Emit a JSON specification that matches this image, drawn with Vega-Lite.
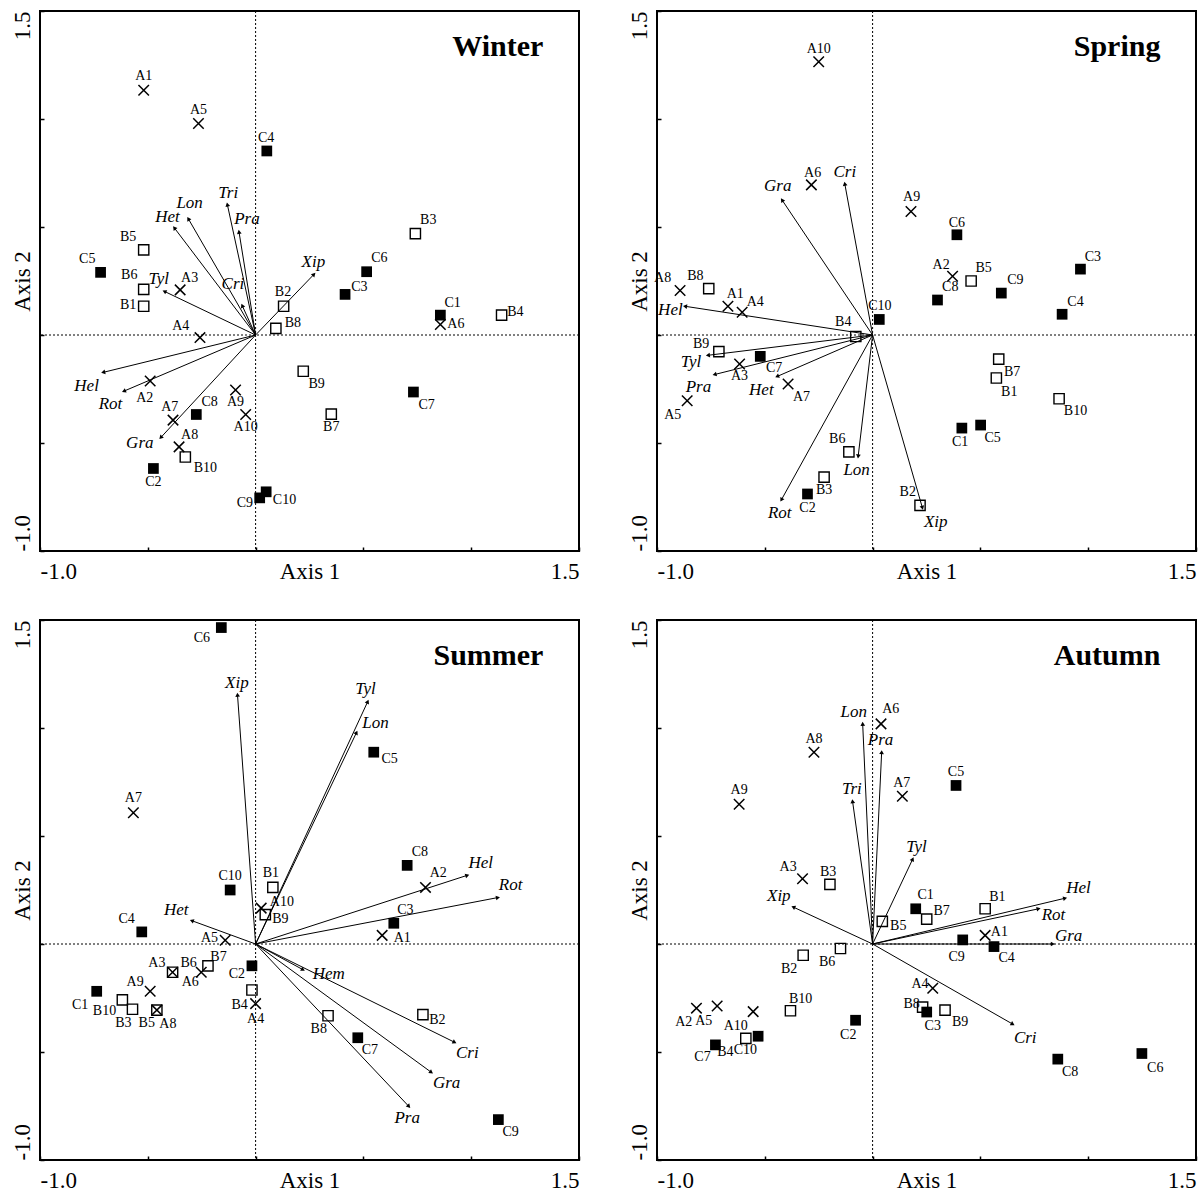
{
  "$schema": "https://vega.github.io/schema/vega-lite/v6.json",
  "background": "white",
  "padding": {"left": 10, "top": 9, "right": 2, "bottom": 2},
  "data": {"values": [
    {"s":"Winter","k":"T","t":"Winter"},
    {"s":"Spring","k":"T","t":"Spring"},
    {"s":"Summer","k":"T","t":"Summer"},
    {"s":"Autumn","k":"T","t":"Autumn"},

    {"s":"Winter","k":"A","t":"A1","x":-0.519,"y":1.133,"lx":-0.519,"ly":1.197},
    {"s":"Winter","k":"A","t":"A2","x":-0.489,"y":-0.213,"lx":-0.514,"ly":-0.290},
    {"s":"Winter","k":"A","t":"A3","x":-0.350,"y":0.209,"lx":-0.306,"ly":0.264},
    {"s":"Winter","k":"A","t":"A4","x":-0.258,"y":-0.012,"lx":-0.347,"ly":0.042},
    {"s":"Winter","k":"A","t":"A5","x":-0.265,"y":0.979,"lx":-0.265,"ly":1.040},
    {"s":"Winter","k":"A","t":"A6","x":0.857,"y":0.049,"lx":0.929,"ly":0.052},
    {"s":"Winter","k":"A","t":"A7","x":-0.383,"y":-0.394,"lx":-0.398,"ly":-0.335},
    {"s":"Winter","k":"A","t":"A8","x":-0.355,"y":-0.518,"lx":-0.306,"ly":-0.461},
    {"s":"Winter","k":"A","t":"A9","x":-0.093,"y":-0.255,"lx":-0.093,"ly":-0.312},
    {"s":"Winter","k":"A","t":"A10","x":-0.046,"y":-0.368,"lx":-0.046,"ly":-0.426},
    {"s":"Winter","k":"B","t":"B1","x":-0.519,"y":0.133,"lx":-0.591,"ly":0.141},
    {"s":"Winter","k":"B","t":"B2","x":0.130,"y":0.133,"lx":0.127,"ly":0.199},
    {"s":"Winter","k":"B","t":"B3","x":0.741,"y":0.469,"lx":0.801,"ly":0.534},
    {"s":"Winter","k":"B","t":"B4","x":1.141,"y":0.092,"lx":1.205,"ly":0.106},
    {"s":"Winter","k":"B","t":"B5","x":-0.519,"y":0.394,"lx":-0.591,"ly":0.452},
    {"s":"Winter","k":"B","t":"B6","x":-0.519,"y":0.211,"lx":-0.586,"ly":0.276},
    {"s":"Winter","k":"B","t":"B7","x":0.351,"y":-0.366,"lx":0.351,"ly":-0.426},
    {"s":"Winter","k":"B","t":"B8","x":0.094,"y":0.031,"lx":0.173,"ly":0.054},
    {"s":"Winter","k":"B","t":"B9","x":0.221,"y":-0.168,"lx":0.283,"ly":-0.229},
    {"s":"Winter","k":"B","t":"B10","x":-0.326,"y":-0.565,"lx":-0.233,"ly":-0.614},
    {"s":"Winter","k":"C","t":"C1","x":0.857,"y":0.092,"lx":0.914,"ly":0.150},
    {"s":"Winter","k":"C","t":"C2","x":-0.474,"y":-0.618,"lx":-0.474,"ly":-0.679},
    {"s":"Winter","k":"C","t":"C3","x":0.415,"y":0.188,"lx":0.481,"ly":0.220},
    {"s":"Winter","k":"C","t":"C4","x":0.052,"y":0.852,"lx":0.049,"ly":0.914},
    {"s":"Winter","k":"C","t":"C5","x":-0.719,"y":0.290,"lx":-0.781,"ly":0.351},
    {"s":"Winter","k":"C","t":"C6","x":0.515,"y":0.293,"lx":0.574,"ly":0.356},
    {"s":"Winter","k":"C","t":"C7","x":0.732,"y":-0.264,"lx":0.793,"ly":-0.325},
    {"s":"Winter","k":"C","t":"C8","x":-0.275,"y":-0.368,"lx":-0.213,"ly":-0.312},
    {"s":"Winter","k":"C","t":"C9","x":0.019,"y":-0.754,"lx":-0.050,"ly":-0.780},
    {"s":"Winter","k":"C","t":"C10","x":0.049,"y":-0.726,"lx":0.134,"ly":-0.766},
    {"s":"Winter","k":"sp","t":"Tri","x":-0.131,"y":0.604,"lx":-0.127,"ly":0.656},
    {"s":"Winter","k":"sp","t":"Pra","x":-0.077,"y":0.478,"lx":-0.040,"ly":0.538},
    {"s":"Winter","k":"sp","t":"Lon","x":-0.312,"y":0.538,"lx":-0.306,"ly":0.613},
    {"s":"Winter","k":"sp","t":"Het","x":-0.377,"y":0.496,"lx":-0.409,"ly":0.548},
    {"s":"Winter","k":"sp","t":"Cri","x":-0.062,"y":0.136,"lx":-0.105,"ly":0.237},
    {"s":"Winter","k":"sp","t":"Tyl","x":-0.423,"y":0.202,"lx":-0.449,"ly":0.260},
    {"s":"Winter","k":"sp","t":"Hel","x":-0.707,"y":-0.173,"lx":-0.784,"ly":-0.234},
    {"s":"Winter","k":"sp","t":"Rot","x":-0.611,"y":-0.260,"lx":-0.673,"ly":-0.321},
    {"s":"Winter","k":"sp","t":"Gra","x":-0.440,"y":-0.475,"lx":-0.537,"ly":-0.501},
    {"s":"Winter","k":"sp","t":"Xip","x":0.271,"y":0.281,"lx":0.268,"ly":0.337},

    {"s":"Spring","k":"A","t":"A1","x":-0.671,"y":0.133,"lx":-0.637,"ly":0.192},
    {"s":"Spring","k":"A","t":"A2","x":0.371,"y":0.272,"lx":0.318,"ly":0.323},
    {"s":"Spring","k":"A","t":"A3","x":-0.617,"y":-0.134,"lx":-0.617,"ly":-0.192},
    {"s":"Spring","k":"A","t":"A4","x":-0.605,"y":0.105,"lx":-0.544,"ly":0.154},
    {"s":"Spring","k":"A","t":"A5","x":-0.860,"y":-0.304,"lx":-0.927,"ly":-0.370},
    {"s":"Spring","k":"A","t":"A6","x":-0.284,"y":0.695,"lx":-0.278,"ly":0.750},
    {"s":"Spring","k":"A","t":"A7","x":-0.392,"y":-0.227,"lx":-0.330,"ly":-0.286},
    {"s":"Spring","k":"A","t":"A8","x":-0.893,"y":0.206,"lx":-0.974,"ly":0.262},
    {"s":"Spring","k":"A","t":"A9","x":0.178,"y":0.572,"lx":0.181,"ly":0.639},
    {"s":"Spring","k":"A","t":"A10","x":-0.250,"y":1.265,"lx":-0.250,"ly":1.326},
    {"s":"Spring","k":"B","t":"B1","x":0.574,"y":-0.199,"lx":0.634,"ly":-0.265},
    {"s":"Spring","k":"B","t":"B2","x":0.220,"y":-0.789,"lx":0.163,"ly":-0.728},
    {"s":"Spring","k":"B","t":"B3","x":-0.225,"y":-0.658,"lx":-0.225,"ly":-0.719},
    {"s":"Spring","k":"B","t":"B4","x":-0.078,"y":-0.007,"lx":-0.136,"ly":0.058},
    {"s":"Spring","k":"B","t":"B5","x":0.457,"y":0.250,"lx":0.515,"ly":0.311},
    {"s":"Spring","k":"B","t":"B6","x":-0.110,"y":-0.541,"lx":-0.164,"ly":-0.480},
    {"s":"Spring","k":"B","t":"B7","x":0.585,"y":-0.112,"lx":0.647,"ly":-0.169},
    {"s":"Spring","k":"B","t":"B8","x":-0.760,"y":0.215,"lx":-0.822,"ly":0.271},
    {"s":"Spring","k":"B","t":"B9","x":-0.713,"y":-0.077,"lx":-0.795,"ly":-0.042},
    {"s":"Spring","k":"B","t":"B10","x":0.865,"y":-0.295,"lx":0.941,"ly":-0.353},
    {"s":"Spring","k":"C","t":"C1","x":0.414,"y":-0.431,"lx":0.406,"ly":-0.496},
    {"s":"Spring","k":"C","t":"C2","x":-0.302,"y":-0.736,"lx":-0.302,"ly":-0.799},
    {"s":"Spring","k":"C","t":"C3","x":0.964,"y":0.305,"lx":1.022,"ly":0.363},
    {"s":"Spring","k":"C","t":"C4","x":0.879,"y":0.096,"lx":0.941,"ly":0.154},
    {"s":"Spring","k":"C","t":"C5","x":0.501,"y":-0.417,"lx":0.557,"ly":-0.478},
    {"s":"Spring","k":"C","t":"C6","x":0.391,"y":0.464,"lx":0.391,"ly":0.520},
    {"s":"Spring","k":"C","t":"C7","x":-0.521,"y":-0.099,"lx":-0.457,"ly":-0.152},
    {"s":"Spring","k":"C","t":"C8","x":0.301,"y":0.162,"lx":0.360,"ly":0.220},
    {"s":"Spring","k":"C","t":"C9","x":0.597,"y":0.194,"lx":0.662,"ly":0.255},
    {"s":"Spring","k":"C","t":"C10","x":0.031,"y":0.072,"lx":0.034,"ly":0.133},
    {"s":"Spring","k":"sp","t":"Gra","x":-0.420,"y":0.625,"lx":-0.440,"ly":0.689},
    {"s":"Spring","k":"sp","t":"Cri","x":-0.129,"y":0.700,"lx":-0.129,"ly":0.756},
    {"s":"Spring","k":"sp","t":"Hel","x":-0.870,"y":0.133,"lx":-0.938,"ly":0.115},
    {"s":"Spring","k":"sp","t":"Tyl","x":-0.764,"y":-0.094,"lx":-0.842,"ly":-0.126},
    {"s":"Spring","k":"sp","t":"Pra","x":-0.733,"y":-0.183,"lx":-0.808,"ly":-0.239},
    {"s":"Spring","k":"sp","t":"Het","x":-0.443,"y":-0.192,"lx":-0.516,"ly":-0.253},
    {"s":"Spring","k":"sp","t":"Lon","x":-0.067,"y":-0.562,"lx":-0.074,"ly":-0.623},
    {"s":"Spring","k":"sp","t":"Rot","x":-0.423,"y":-0.763,"lx":-0.431,"ly":-0.824},
    {"s":"Spring","k":"sp","t":"Xip","x":0.231,"y":-0.800,"lx":0.293,"ly":-0.867},

    {"s":"Summer","k":"A","t":"A1","x":0.587,"y":0.040,"lx":0.680,"ly":0.030},
    {"s":"Summer","k":"A","t":"A2","x":0.788,"y":0.262,"lx":0.847,"ly":0.329},
    {"s":"Summer","k":"A","t":"A3","x":-0.385,"y":-0.131,"lx":-0.458,"ly":-0.087},
    {"s":"Summer","k":"A","t":"A4","x":0.000,"y":-0.276,"lx":0.000,"ly":-0.346},
    {"s":"Summer","k":"A","t":"A5","x":-0.141,"y":0.017,"lx":-0.214,"ly":0.030},
    {"s":"Summer","k":"A","t":"A6","x":-0.252,"y":-0.131,"lx":-0.303,"ly":-0.175},
    {"s":"Summer","k":"A","t":"A7","x":-0.567,"y":0.608,"lx":-0.567,"ly":0.678},
    {"s":"Summer","k":"A","t":"A8","x":-0.458,"y":-0.306,"lx":-0.407,"ly":-0.372},
    {"s":"Summer","k":"A","t":"A9","x":-0.489,"y":-0.219,"lx":-0.559,"ly":-0.178},
    {"s":"Summer","k":"A","t":"A10","x":0.026,"y":0.166,"lx":0.122,"ly":0.196},
    {"s":"Summer","k":"B","t":"B1","x":0.080,"y":0.262,"lx":0.071,"ly":0.329},
    {"s":"Summer","k":"B","t":"B2","x":0.776,"y":-0.327,"lx":0.843,"ly":-0.350},
    {"s":"Summer","k":"B","t":"B3","x":-0.571,"y":-0.302,"lx":-0.613,"ly":-0.367},
    {"s":"Summer","k":"B","t":"B4","x":-0.017,"y":-0.213,"lx":-0.074,"ly":-0.283},
    {"s":"Summer","k":"B","t":"B5","x":-0.458,"y":-0.306,"lx":-0.505,"ly":-0.367},
    {"s":"Summer","k":"B","t":"B6","x":-0.385,"y":-0.131,"lx":-0.311,"ly":-0.087},
    {"s":"Summer","k":"B","t":"B7","x":-0.221,"y":-0.101,"lx":-0.172,"ly":-0.061},
    {"s":"Summer","k":"B","t":"B8","x":0.336,"y":-0.332,"lx":0.293,"ly":-0.393},
    {"s":"Summer","k":"B","t":"B9","x":0.045,"y":0.136,"lx":0.115,"ly":0.117},
    {"s":"Summer","k":"B","t":"B10","x":-0.618,"y":-0.259,"lx":-0.701,"ly":-0.309},
    {"s":"Summer","k":"C","t":"C1","x":-0.737,"y":-0.219,"lx":-0.814,"ly":-0.283},
    {"s":"Summer","k":"C","t":"C2","x":-0.017,"y":-0.101,"lx":-0.087,"ly":-0.140},
    {"s":"Summer","k":"C","t":"C3","x":0.641,"y":0.096,"lx":0.695,"ly":0.157},
    {"s":"Summer","k":"C","t":"C4","x":-0.528,"y":0.056,"lx":-0.598,"ly":0.117},
    {"s":"Summer","k":"C","t":"C5","x":0.548,"y":0.888,"lx":0.622,"ly":0.857},
    {"s":"Summer","k":"C","t":"C6","x":-0.159,"y":1.465,"lx":-0.249,"ly":1.416},
    {"s":"Summer","k":"C","t":"C7","x":0.474,"y":-0.434,"lx":0.530,"ly":-0.493},
    {"s":"Summer","k":"C","t":"C8","x":0.703,"y":0.364,"lx":0.762,"ly":0.428},
    {"s":"Summer","k":"C","t":"C9","x":1.126,"y":-0.813,"lx":1.183,"ly":-0.871},
    {"s":"Summer","k":"C","t":"C10","x":-0.118,"y":0.250,"lx":-0.118,"ly":0.315},
    {"s":"Summer","k":"sp","t":"Xip","x":-0.084,"y":1.154,"lx":-0.087,"ly":1.210},
    {"s":"Summer","k":"sp","t":"Tyl","x":0.520,"y":1.122,"lx":0.510,"ly":1.180},
    {"s":"Summer","k":"sp","t":"Lon","x":0.468,"y":0.979,"lx":0.556,"ly":1.023},
    {"s":"Summer","k":"sp","t":"Het","x":-0.296,"y":0.108,"lx":-0.368,"ly":0.157},
    {"s":"Summer","k":"sp","t":"Hel","x":0.982,"y":0.318,"lx":1.044,"ly":0.376},
    {"s":"Summer","k":"sp","t":"Rot","x":1.124,"y":0.215,"lx":1.183,"ly":0.271},
    {"s":"Summer","k":"sp","t":"Hem","x":0.220,"y":-0.119,"lx":0.339,"ly":-0.140},
    {"s":"Summer","k":"sp","t":"Cri","x":0.923,"y":-0.455,"lx":0.982,"ly":-0.503},
    {"s":"Summer","k":"sp","t":"Gra","x":0.815,"y":-0.594,"lx":0.886,"ly":-0.643},
    {"s":"Summer","k":"sp","t":"Pra","x":0.711,"y":-0.752,"lx":0.703,"ly":-0.804},

    {"s":"Autumn","k":"A","t":"A1","x":0.522,"y":0.040,"lx":0.588,"ly":0.054},
    {"s":"Autumn","k":"A","t":"A2","x":-0.817,"y":-0.297,"lx":-0.876,"ly":-0.362},
    {"s":"Autumn","k":"A","t":"A3","x":-0.325,"y":0.302,"lx":-0.392,"ly":0.355},
    {"s":"Autumn","k":"A","t":"A4","x":0.279,"y":-0.205,"lx":0.220,"ly":-0.187},
    {"s":"Autumn","k":"A","t":"A5","x":-0.721,"y":-0.287,"lx":-0.783,"ly":-0.357},
    {"s":"Autumn","k":"A","t":"A6","x":0.039,"y":1.019,"lx":0.084,"ly":1.089},
    {"s":"Autumn","k":"A","t":"A7","x":0.138,"y":0.684,"lx":0.135,"ly":0.745},
    {"s":"Autumn","k":"A","t":"A8","x":-0.272,"y":0.888,"lx":-0.272,"ly":0.949},
    {"s":"Autumn","k":"A","t":"A9","x":-0.619,"y":0.647,"lx":-0.619,"ly":0.713},
    {"s":"Autumn","k":"A","t":"A10","x":-0.554,"y":-0.313,"lx":-0.635,"ly":-0.379},
    {"s":"Autumn","k":"B","t":"B1","x":0.522,"y":0.163,"lx":0.579,"ly":0.219},
    {"s":"Autumn","k":"B","t":"B2","x":-0.322,"y":-0.052,"lx":-0.387,"ly":-0.117},
    {"s":"Autumn","k":"B","t":"B3","x":-0.198,"y":0.276,"lx":-0.206,"ly":0.332},
    {"s":"Autumn","k":"B","t":"B4","x":-0.588,"y":-0.437,"lx":-0.683,"ly":-0.498},
    {"s":"Autumn","k":"B","t":"B5","x":0.045,"y":0.105,"lx":0.119,"ly":0.084},
    {"s":"Autumn","k":"B","t":"B6","x":-0.149,"y":-0.021,"lx":-0.211,"ly":-0.082},
    {"s":"Autumn","k":"B","t":"B7","x":0.251,"y":0.115,"lx":0.320,"ly":0.154},
    {"s":"Autumn","k":"B","t":"B8","x":0.232,"y":-0.292,"lx":0.181,"ly":-0.280},
    {"s":"Autumn","k":"B","t":"B9","x":0.336,"y":-0.306,"lx":0.406,"ly":-0.362},
    {"s":"Autumn","k":"B","t":"B10","x":-0.381,"y":-0.309,"lx":-0.334,"ly":-0.253},
    {"s":"Autumn","k":"C","t":"C1","x":0.200,"y":0.163,"lx":0.246,"ly":0.227},
    {"s":"Autumn","k":"C","t":"C2","x":-0.079,"y":-0.353,"lx":-0.113,"ly":-0.420},
    {"s":"Autumn","k":"C","t":"C3","x":0.251,"y":-0.315,"lx":0.279,"ly":-0.379},
    {"s":"Autumn","k":"C","t":"C4","x":0.563,"y":-0.012,"lx":0.622,"ly":-0.065},
    {"s":"Autumn","k":"C","t":"C5","x":0.387,"y":0.734,"lx":0.387,"ly":0.795},
    {"s":"Autumn","k":"C","t":"C6","x":1.249,"y":-0.507,"lx":1.311,"ly":-0.572},
    {"s":"Autumn","k":"C","t":"C7","x":-0.729,"y":-0.467,"lx":-0.789,"ly":-0.524},
    {"s":"Autumn","k":"C","t":"C8","x":0.859,"y":-0.533,"lx":0.916,"ly":-0.594},
    {"s":"Autumn","k":"C","t":"C9","x":0.418,"y":0.019,"lx":0.390,"ly":-0.059},
    {"s":"Autumn","k":"C","t":"C10","x":-0.531,"y":-0.427,"lx":-0.590,"ly":-0.493},
    {"s":"Autumn","k":"sp","t":"Lon","x":-0.046,"y":1.019,"lx":-0.087,"ly":1.072},
    {"s":"Autumn","k":"sp","t":"Pra","x":0.042,"y":0.888,"lx":0.037,"ly":0.944},
    {"s":"Autumn","k":"sp","t":"Tri","x":-0.093,"y":0.661,"lx":-0.096,"ly":0.719},
    {"s":"Autumn","k":"sp","t":"Tyl","x":0.186,"y":0.393,"lx":0.204,"ly":0.448},
    {"s":"Autumn","k":"sp","t":"Xip","x":-0.368,"y":0.171,"lx":-0.435,"ly":0.220},
    {"s":"Autumn","k":"sp","t":"Hel","x":0.893,"y":0.212,"lx":0.955,"ly":0.259},
    {"s":"Autumn","k":"sp","t":"Rot","x":0.770,"y":0.163,"lx":0.839,"ly":0.136},
    {"s":"Autumn","k":"sp","t":"Gra","x":0.836,"y":0.000,"lx":0.909,"ly":0.035},
    {"s":"Autumn","k":"sp","t":"Cri","x":0.650,"y":-0.371,"lx":0.708,"ly":-0.437}
  ]},
  "facet": {"field": "s", "type": "nominal", "sort": ["Winter", "Spring", "Summer", "Autumn"], "title": null,
    "header": {"labels": false, "title": null, "labelFontSize": 0, "labelPadding": 0, "titlePadding": 0, "labelExpr": "''"}},
  "columns": 2,
  "spacing": {"row": 34, "column": 46},
  "resolve": {"axis": {"x": "independent", "y": "independent"}},
  "spec": {
    "width": 539,
    "height": 540,
    "layer": [
      {
        "transform": [{"filter": "datum.k == 'sp'"}],
        "mark": {"type": "rule", "color": "black", "strokeWidth": 1},
        "encoding": {
          "x": {"field": "x", "type": "quantitative", "title": "Axis 1", "scale": {"domain": [-1, 1.5], "nice": false, "zero": false},
            "axis": {"values": [-1, -0.5, 0, 0.5, 1, 1.5], "labelFlush": true}},
          "y": {"field": "y", "type": "quantitative", "title": "Axis 2", "scale": {"domain": [-1, 1.5], "nice": false, "zero": false},
            "axis": {"values": [-1, -0.5, 0, 0.5, 1, 1.5], "labelFlush": false,
              "labelAlign": {"condition": {"test": "datum.value > 0", "value": "right"}, "value": "left"}}},
          "x2": {"datum": 0},
          "y2": {"datum": 0}
        }
      },
      {
        "transform": [{"filter": "datum.k == 'T'"}],
        "mark": {"type": "rule", "color": "black", "strokeWidth": 1, "strokeDash": [2, 2]},
        "encoding": {
          "x": {"datum": 0, "type": "quantitative", "title": "Axis 1"}
        }
      },
      {
        "transform": [{"filter": "datum.k == 'T'"}],
        "mark": {"type": "rule", "color": "black", "strokeWidth": 1, "strokeDash": [2, 2]},
        "encoding": {
          "y": {"datum": 0, "type": "quantitative", "title": "Axis 2"}
        }
      },
      {
        "transform": [{"filter": "datum.k == 'sp'"}, {"calculate": "atan2(datum.x, datum.y) * 180 / PI", "as": "ang"}],
        "mark": {"type": "point", "shape": "triangle-up", "size": 22, "filled": true, "color": "black", "opacity": 1},
        "encoding": {
          "x": {"field": "x", "type": "quantitative", "title": "Axis 1"},
          "y": {"field": "y", "type": "quantitative", "title": "Axis 2"},
          "angle": {"field": "ang", "type": "quantitative", "scale": null}
        }
      },
      {
        "transform": [{"filter": "datum.k == 'A'"}],
        "mark": {"type": "point", "shape": "M-1,-1L1,1M-1,1L1,-1", "size": 110, "filled": false, "stroke": "black", "strokeWidth": 1.5, "opacity": 1},
        "encoding": {
          "x": {"field": "x", "type": "quantitative", "title": "Axis 1"},
          "y": {"field": "y", "type": "quantitative", "title": "Axis 2"}
        }
      },
      {
        "transform": [{"filter": "datum.k == 'B'"}],
        "mark": {"type": "point", "shape": "square", "size": 105, "filled": false, "stroke": "black", "strokeWidth": 1.4, "opacity": 1},
        "encoding": {
          "x": {"field": "x", "type": "quantitative", "title": "Axis 1"},
          "y": {"field": "y", "type": "quantitative", "title": "Axis 2"}
        }
      },
      {
        "transform": [{"filter": "datum.k == 'C'"}],
        "mark": {"type": "point", "shape": "square", "size": 115, "filled": true, "color": "black", "opacity": 1},
        "encoding": {
          "x": {"field": "x", "type": "quantitative", "title": "Axis 1"},
          "y": {"field": "y", "type": "quantitative", "title": "Axis 2"}
        }
      },
      {
        "transform": [{"filter": "datum.k == 'A' || datum.k == 'B' || datum.k == 'C'"}],
        "mark": {"type": "text", "font": "Liberation Serif", "fontSize": 14, "color": "black", "align": "center", "baseline": "middle"},
        "encoding": {
          "x": {"field": "lx", "type": "quantitative", "title": "Axis 1"},
          "y": {"field": "ly", "type": "quantitative", "title": "Axis 2"},
          "text": {"field": "t"}
        }
      },
      {
        "transform": [{"filter": "datum.k == 'sp'"}],
        "mark": {"type": "text", "font": "Liberation Serif", "fontSize": 17, "fontStyle": "italic", "color": "black", "align": "center", "baseline": "middle"},
        "encoding": {
          "x": {"field": "lx", "type": "quantitative", "title": "Axis 1"},
          "y": {"field": "ly", "type": "quantitative", "title": "Axis 2"},
          "text": {"field": "t"}
        }
      },
      {
        "transform": [{"filter": "datum.k == 'T'"}],
        "mark": {"type": "text", "font": "Liberation Serif", "fontSize": 30, "fontWeight": "bold", "color": "black", "align": "right", "baseline": "alphabetic"},
        "encoding": {
          "x": {"datum": 1.335, "type": "quantitative", "title": "Axis 1"},
          "y": {"datum": 1.29, "type": "quantitative", "title": "Axis 2"},
          "text": {"field": "t"}
        }
      }
    ]
  },
  "config": {
    "view": {"stroke": "black", "strokeWidth": 2},
    "header": {"labels": false, "title": null, "labelFontSize": 0, "labelPadding": 0, "titlePadding": 0},
    "headerFacet": {"labels": false, "title": null, "labelFontSize": 0, "labelPadding": 0, "titlePadding": 0},
    "axis": {"grid": false, "domain": false, "tickColor": "black", "tickWidth": 1.5, "tickSize": -4,
      "labelExpr": "datum.value == -1 ? '-1.0' : (datum.value == 1.5 ? '1.5' : '')",
      "labelOverlap": false,
      "labelFont": "Liberation Serif", "labelFontSize": 23, "labelColor": "black",
      "titleFont": "Liberation Serif", "titleFontSize": 23, "titleFontWeight": "normal", "titleColor": "black"},
    "axisX": {"labelBaseline": "top", "labelPadding": 13, "titleY": 27, "titleBaseline": "alphabetic", "titlePadding": 0},
    "axisY": {"labelAngle": 270, "labelBaseline": "middle", "labelPadding": 22,
      "titleAngle": 270, "titleX": -18, "titleY": 270, "titleAlign": "center", "titleBaseline": "middle"}
  }
}
